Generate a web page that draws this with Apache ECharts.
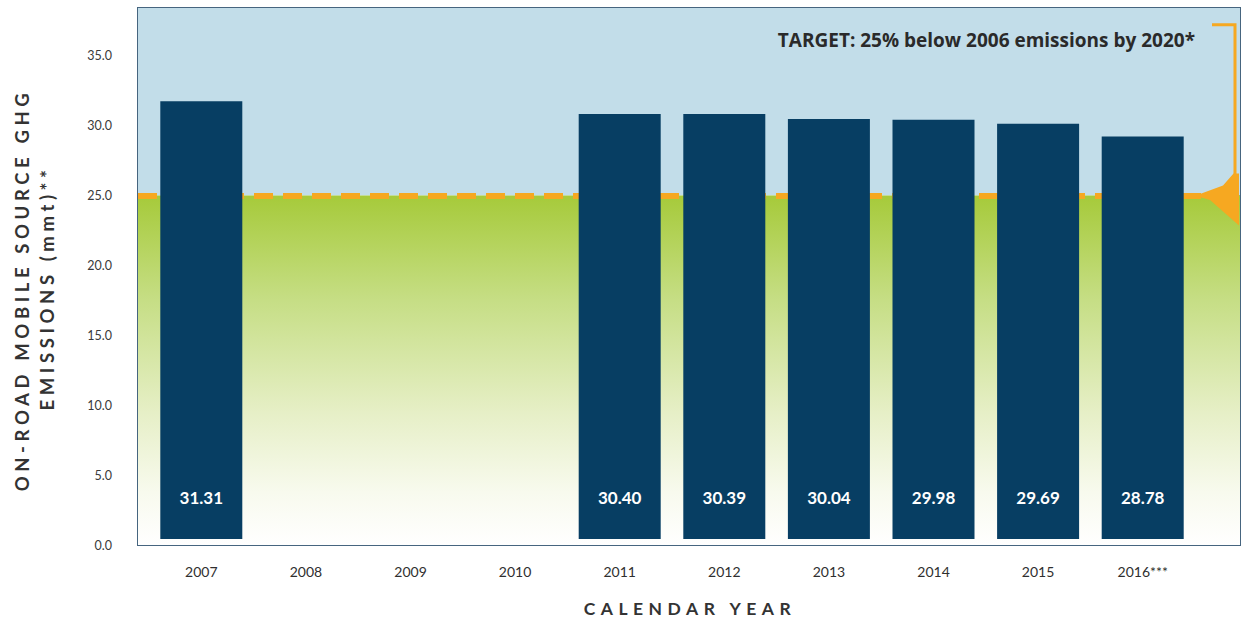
<!DOCTYPE html>
<html>
<head>
<meta charset="utf-8">
<title>On-road mobile source GHG emissions</title>
<style>
  html, body { margin: 0; padding: 0; background: #ffffff; }
  #chart { width: 1243px; height: 622px; }
  /* spaced-out capitals for the two axis titles */
  #chart text[style*="18.5px"] { letter-spacing: 4.6px; }
  #chart text[style*="17.5px"] { letter-spacing: 5.5px; }
</style>
<script src="https://cdn.jsdelivr.net/npm/echarts@6/dist/echarts.min.js"></script>
</head>
<body>
<div id="chart"></div>
<script>
// Calendar years and on-road emissions (million metric tons)
const years = ['2007', '2008', '2009', '2010', '2011', '2012', '2013', '2014', '2015', '2016***'];
const emissions = [31.31, '-', '-', '-', 30.40, 30.39, 30.04, 29.98, 29.69, 28.78];
const yTickLabels = ['0.0', '5.0', '10.0', '15.0', '20.0', '25.0', '30.0', '35.0'];
const targetLevel = 25;      // 25% below 2006 emissions
const baselineLevel = 37.2;  // 2006 level, top of the bracket
const yMax = 38.4;

const TEXT_FONT = 'Lato, "Open Sans", sans-serif';
const NOTE_FONT = '"Open Sans", Lato, sans-serif';

const chart = echarts.init(document.getElementById('chart'), null, { renderer: 'svg' });

const greenFade = new echarts.graphic.LinearGradient(0, 0, 0, 1, [
  { offset: 0, color: '#a6ca3a' },
  { offset: 0.3, color: '#c6de85' },
  { offset: 0.62, color: '#e6efc6' },
  { offset: 0.85, color: '#f8faee' },
  { offset: 1, color: '#ffffff' }
]);

chart.setOption({
  animation: false,
  backgroundColor: '#ffffff',
  grid: [
    // framed panel with the coloured bands
    { left: 138, right: 3, top: 8, bottom: 77, show: true,
      borderColor: '#46657f', borderWidth: 2, backgroundColor: 'transparent' },
    // bar area
    { left: 149, right: 48, top: 2, bottom: 83 }
  ],
  xAxis: [
    { type: 'value', gridIndex: 0, min: 0, max: 1, show: false },
    { type: 'category', gridIndex: 1, data: years,
      axisLine: { show: false }, axisTick: { show: false },
      axisLabel: { margin: 25, color: '#2f2f2f', fontSize: 14, fontFamily: TEXT_FONT } }
  ],
  yAxis: [
    { type: 'value', gridIndex: 0, min: 0, max: yMax, interval: 5,
      axisLine: { show: false }, axisTick: { show: false }, splitLine: { show: false },
      axisLabel: {
        margin: 26, color: '#3a3a3a', fontSize: 12.5, fontFamily: TEXT_FONT,
        showMaxLabel: false,
        formatter: (v) => yTickLabels[Math.round(v / 5)] ?? ''
      } },
    { type: 'value', gridIndex: 1, min: 0, max: yMax, show: false }
  ],
  series: [
    {
      name: 'bands',
      type: 'line',
      xAxisIndex: 0, yAxisIndex: 0,
      data: [[0, 0]],
      showSymbol: false, silent: true, z: 1,
      lineStyle: { opacity: 0 },
      markArea: {
        silent: true,
        z: 1,
        label: { show: false },
        data: [
          [{ yAxis: targetLevel, itemStyle: { color: '#c2dde9' } }, { yAxis: yMax }],
          [{ yAxis: 0, itemStyle: { color: greenFade } }, { yAxis: targetLevel }]
        ]
      },
      markLine: {
        silent: true,
        z: 2,
        symbol: 'none',
        label: { show: false },
        lineStyle: { color: '#f6a821', width: 6, type: [19, 10], opacity: 1 },
        data: [{ yAxis: targetLevel }]
      }
    },
    {
      name: 'Emissions',
      type: 'bar',
      xAxisIndex: 1, yAxisIndex: 1,
      data: emissions,
      barWidth: 82,
      z: 5,
      itemStyle: { color: '#073e63' },
      label: {
        show: true,
        position: 'insideBottom',
        distance: 33,
        color: '#ffffff',
        fontWeight: 'bold',
        fontSize: 17,
        fontFamily: TEXT_FONT,
        formatter: (p) => Number(p.value).toFixed(2)
      }
    }
  ]
});

// bracket from the 2006 level down to the target, plus titles
const yTop = chart.convertToPixel({ yAxisIndex: 0 }, baselineLevel);
const yTarget = chart.convertToPixel({ yAxisIndex: 0 }, targetLevel);
const xEdge = chart.convertToPixel({ xAxisIndex: 0 }, 1);
const orange = '#f6a821';

chart.setOption({
  graphic: [
    {
      type: 'polyline', silent: true, z: 10,
      shape: { points: [[xEdge - 28, yTop], [xEdge - 5, yTop], [xEdge - 5, yTarget - 20]] },
      style: { stroke: orange, lineWidth: 3, fill: null }
    },
    {
      type: 'polygon', silent: true, z: 10,
      shape: { points: [
        [xEdge - 6.5, yTarget - 22],
        [xEdge - 1, yTarget - 22],
        [xEdge - 1, yTarget + 30],
        [xEdge - 30, yTarget + 4.5],
        [xEdge - 44, yTarget + 0.5],
        [xEdge - 40, yTarget - 1.5],
        [xEdge - 17, yTarget - 10]
      ] },
      style: { fill: orange }
    },
    {
      type: 'text', silent: true, z: 10,
      right: 48, top: 30,
      style: {
        text: 'TARGET: 25% below 2006 emissions by 2020*',
        fill: '#2a2a2a', fontSize: 19, fontWeight: 'bold', fontFamily: NOTE_FONT
      }
    },
    {
      type: 'text', silent: true, z: 10,
      x: 22, y: 290, rotation: Math.PI / 2,
      style: {
        text: 'ON-ROAD MOBILE SOURCE GHG',
        fill: '#333333', fontSize: 18.5, fontWeight: 'bold', fontFamily: TEXT_FONT,
        align: 'center', verticalAlign: 'middle'
      }
    },
    {
      type: 'text', silent: true, z: 10,
      x: 47, y: 288, rotation: Math.PI / 2,
      style: {
        text: 'EMISSIONS (mmt)**',
        fill: '#333333', fontSize: 18.5, fontWeight: 'bold', fontFamily: TEXT_FONT,
        align: 'center', verticalAlign: 'middle'
      }
    },
    {
      type: 'text', silent: true, z: 10,
      x: 690, y: 608,
      style: {
        text: 'CALENDAR YEAR',
        fill: '#333333', fontSize: 17.5, fontWeight: 'bold', fontFamily: TEXT_FONT,
        align: 'center', verticalAlign: 'middle'
      }
    }
  ]
});
</script>
</body>
</html>
